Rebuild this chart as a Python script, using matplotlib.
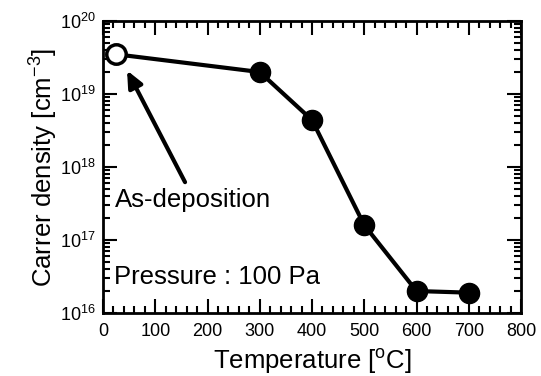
import math
import matplotlib
matplotlib.use("Agg")
import matplotlib.pyplot as plt
from matplotlib.ticker import LogLocator, MultipleLocator, NullFormatter, FuncFormatter

plt.rcParams['font.family'] = ['Liberation Sans', 'DejaVu Sans']
plt.rcParams['mathtext.fontset'] = 'custom'
plt.rcParams['mathtext.rm'] = 'Liberation Sans'
plt.rcParams['mathtext.it'] = 'Liberation Sans'

temp_open = [25]
dens_open = [3.5e19]
temps = [25, 300, 400, 500, 600, 700]
dens = [3.5e19, 2.0e19, 4.4e18, 1.6e17, 2.0e16, 1.9e16]
xticks = [0, 100, 200, 300, 400, 500, 600, 700, 800]

fig = plt.figure(figsize=(5.41, 3.76), dpi=100)
ax = fig.add_axes([103/541, 1-313/376, (521-103)/541, (313-21)/376])

ax.plot(temps, dens, color='black', lw=3, zorder=2)
ax.plot(temps[1:], dens[1:], 'o', color='black', ms=14.5, zorder=3)
ax.plot(temp_open, dens_open, 'o', mfc='white', mec='black', mew=2.5, ms=14, zorder=4)

ax.set_yscale('log')
ax.set_xlim(0, 800)
ax.set_ylim(1e16, 1e20)
ax.set_xticks(xticks)
ax.xaxis.set_minor_locator(MultipleLocator(20))
ax.yaxis.set_major_locator(LogLocator(base=10, numticks=10))
ax.yaxis.set_minor_locator(LogLocator(base=10, subs=range(2, 10), numticks=50))
ax.yaxis.set_minor_formatter(NullFormatter())
ax.yaxis.set_major_formatter(FuncFormatter(
    lambda v, p: r'$\mathregular{10^{%d}}$' % round(math.log10(v))))

ax.tick_params(which='both', direction='in', top=True, right=True, labelsize=13, width=1.5)
ax.tick_params(which='major', length=10)
ax.tick_params(which='minor', length=5)
ax.tick_params(axis='x', pad=7)
ax.tick_params(axis='y', pad=5)
for s in ax.spines.values():
    s.set_linewidth(2)

ax.set_xlabel(r'Temperature [$\mathregular{^{o}}$C]', fontsize=18.5, labelpad=5.5)
ax.set_ylabel(r'Carrer density [cm$\mathregular{^{-3}}$]', fontsize=18.5, labelpad=0)

ax.text(22, 3.5e17, 'As-deposition', fontsize=18.5, va='center', ha='left')
ax.text(22, 3.1e16, 'Pressure : 100 Pa', fontsize=18.5, va='center', ha='left')

ax.annotate('', xy=(46, 2.1e19), xytext=(157, 6.2e17),
            arrowprops=dict(arrowstyle='-|>,head_length=1.0,head_width=0.45', color='black', lw=3,
                            shrinkA=0, shrinkB=0))

fig.savefig('out.png', dpi=100)
